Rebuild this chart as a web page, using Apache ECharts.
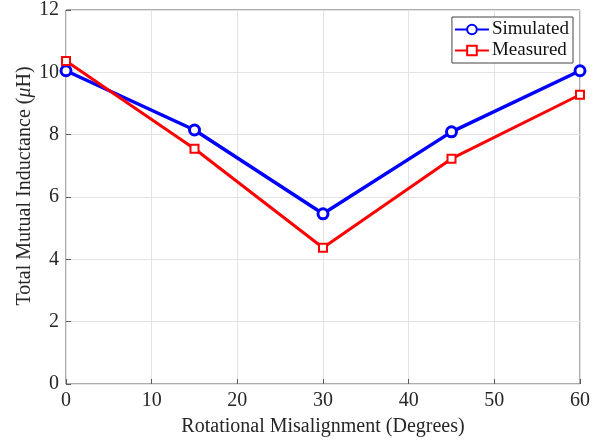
<!DOCTYPE html>
<html><head><meta charset="utf-8">
<script src="https://cdn.jsdelivr.net/npm/echarts@6/dist/echarts.min.js"></script>
<style>html,body{margin:0;padding:0;background:#fff}#c{width:606px;height:444px}</style>
</head><body><div id="c"></div>
<script>
const angles = [0, 15, 30, 45, 60];
const simulated = [10.05, 8.15, 5.46, 8.09, 10.05];
const measured = [10.36, 7.55, 4.37, 7.23, 9.28];
const xTicks = [0, 10, 20, 30, 40, 50, 60];
const yTicks = [0, 2, 4, 6, 8, 10, 12];

const chart = echarts.init(document.getElementById('c'));
const font = 'Liberation Serif, Times New Roman, serif';
function pairs(xs, ys){ return xs.map((x,i)=>[x, ys[i]]); }
chart.setOption({
  animation: false,
  textStyle: {fontFamily: font},
  grid: {left: 66, right: 26, top: 9, bottom: 60, show: true, borderColor: '#5a5a5a', borderWidth: 1},
  legend: {
    top: 17, right: 33, orient: 'vertical',
    backgroundColor: '#fff', borderColor: '#444', borderWidth: 1,
    padding: [3, 4, 3, 2], itemGap: 2, itemWidth: 34, itemHeight: 12,
    textStyle: {fontFamily: font, fontSize: 19, color: '#111', padding: [0,0,0,-2]},
    data: ['Simulated', 'Measured']
  },
  xAxis: {
    type: 'value', min: xTicks[0], max: xTicks[xTicks.length-1], interval: 10,
    name: 'Rotational Misalignment (Degrees)', nameLocation: 'middle', nameGap: 33,
    nameMoveOverlap: false,
    nameTextStyle: {fontFamily: font, fontSize: 20, color: '#262626'},
    axisLine: {show: false},
    axisTick: {show: true, inside: true, length: 5, lineStyle: {color: '#5a5a5a'}},
    axisLabel: {fontFamily: font, fontSize: 20, color: '#262626', margin: 7},
    splitLine: {show: true, lineStyle: {color: '#e3e3e3', width: 1}}
  },
  yAxis: {
    type: 'value', min: yTicks[0], max: yTicks[yTicks.length-1], interval: 2,
    name: 'Total Mutual Inductance ({i|\u03bc}H)', nameLocation: 'middle', nameGap: 31,
    nameMoveOverlap: false,
    nameTextStyle: {fontFamily: font, fontSize: 20, color: '#262626', padding: [0, 0, 0, 22],
      rich: {i: {fontFamily: font, fontSize: 20, fontStyle: 'italic', color: '#262626'}}},
    axisLine: {show: false},
    axisTick: {show: true, inside: true, length: 5, lineStyle: {color: '#5a5a5a'}},
    axisLabel: {fontFamily: font, fontSize: 20, color: '#262626', margin: 7},
    splitLine: {show: true, lineStyle: {color: '#e3e3e3', width: 1}}
  },
  series: [
    {name: 'Simulated', type: 'line', data: pairs(angles, simulated),
     symbol: 'circle', symbolSize: 10, color: '#0000ff',
     lineStyle: {color: '#0000ff', width: 3.5},
     itemStyle: {color: '#fff', borderColor: '#0000ff', borderWidth: 3}, z: 3},
    {name: 'Measured', type: 'line', data: pairs(angles, measured),
     symbol: 'rect', symbolSize: 8, color: '#ff0000',
     lineStyle: {color: '#ff0000', width: 3},
     itemStyle: {color: '#fff', borderColor: '#ff0000', borderWidth: 2}, z: 4}
  ]
});
</script></body></html>
